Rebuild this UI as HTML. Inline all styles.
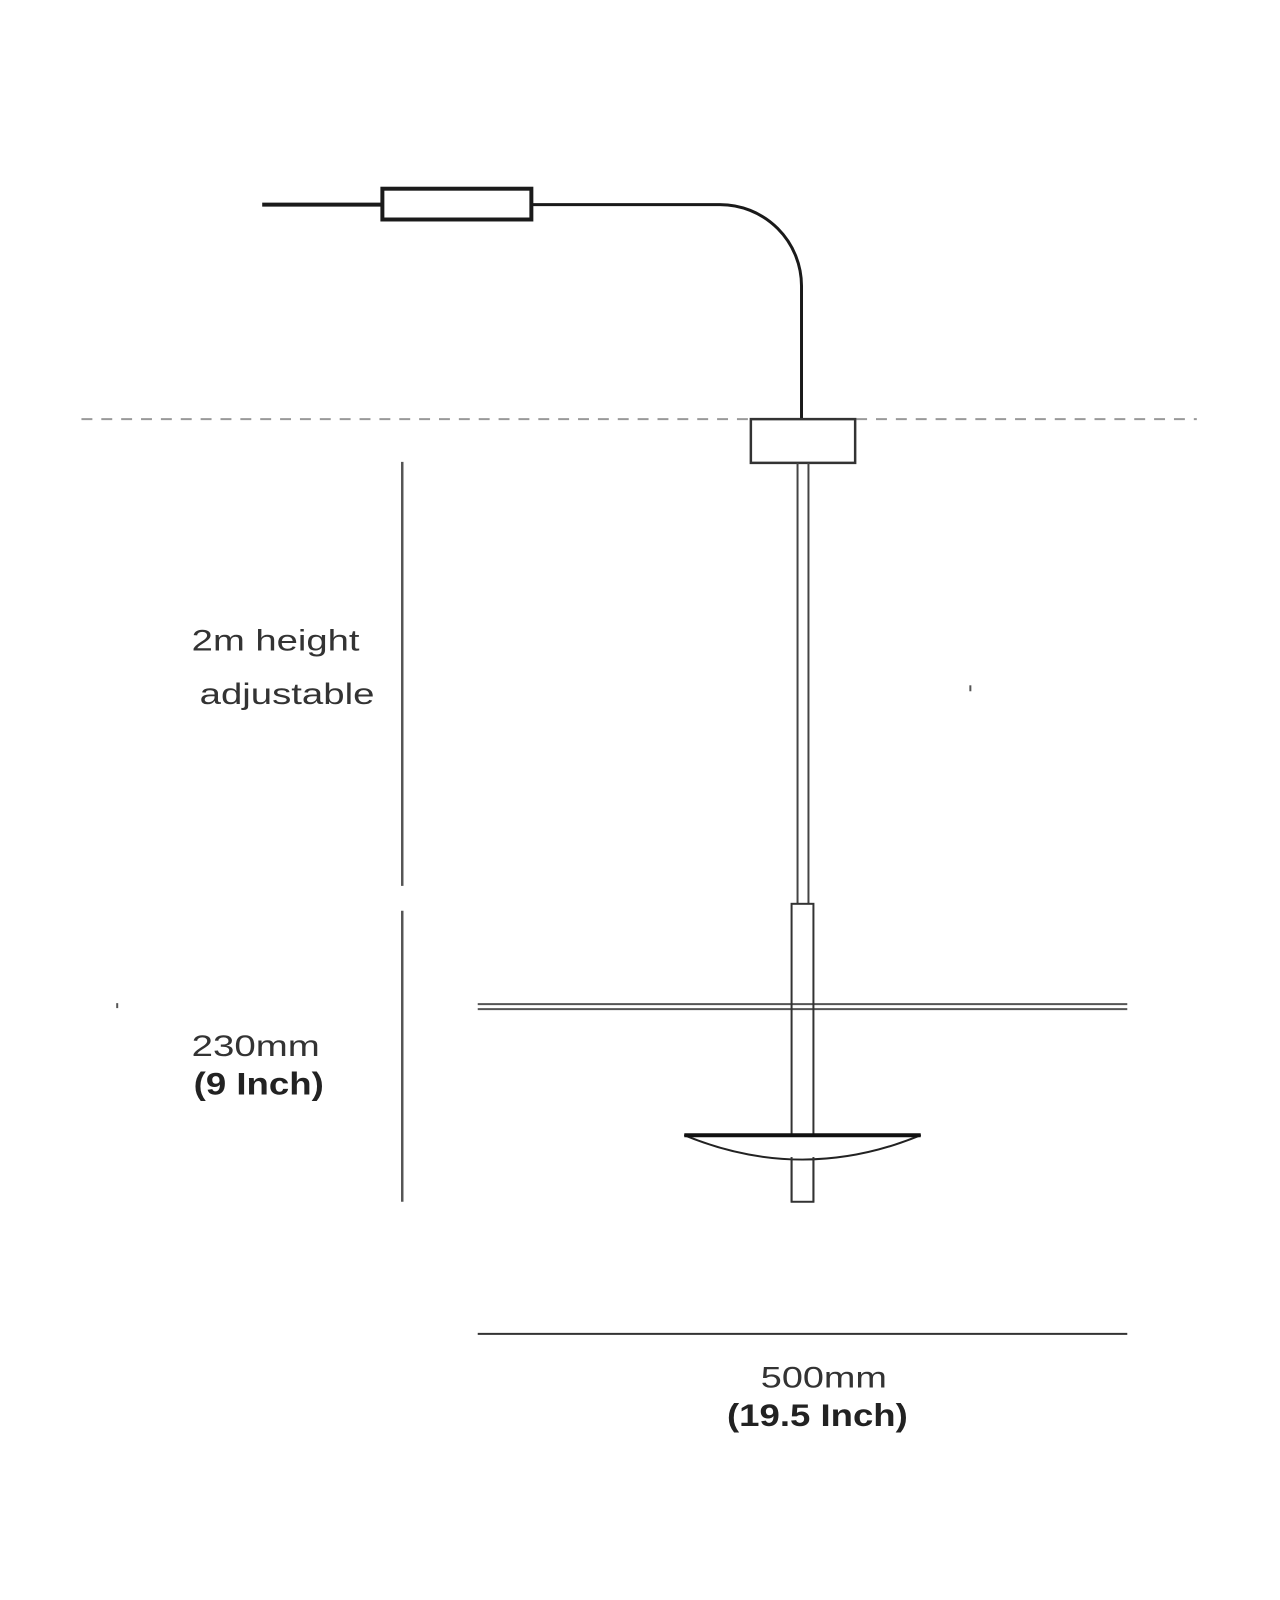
<!DOCTYPE html>
<html><head><meta charset="utf-8"><style>html,body{margin:0;padding:0;background:#fff}svg{display:block}</style></head>
<body>
<svg width="1280" height="1600" viewBox="0 0 1280 1600" xmlns="http://www.w3.org/2000/svg">
<rect width="1280" height="1600" fill="#fff"/>
<g transform="scale(0.9932)">
<line x1="264" y1="206" x2="384" y2="206" stroke="#1a1a1a" stroke-width="4"/>
<rect x="385" y="190" width="150" height="31" fill="#fff" stroke="#1a1a1a" stroke-width="4"/>
<path d="M535 206 H725 A82 82 0 0 1 807 288 V422" fill="none" stroke="#1a1a1a" stroke-width="3"/>
<line x1="82" y1="422" x2="1205" y2="422" stroke="#999" stroke-width="2" stroke-dasharray="11,9"/>
<path d="M756 422 H861 V466 H756 Z" fill="#fff" stroke="#333" stroke-width="2.5"/>
<line x1="803" y1="466" x2="803" y2="910" stroke="#444" stroke-width="2"/>
<line x1="814" y1="466" x2="814" y2="910" stroke="#444" stroke-width="2"/>
<line x1="481" y1="1011" x2="1135" y2="1011" stroke="#555" stroke-width="2"/>
<line x1="481" y1="1016" x2="1135" y2="1016" stroke="#555" stroke-width="2"/>
<rect x="797" y="910" width="22" height="300" fill="none" stroke="#333" stroke-width="2"/>
<path d="M689 1143 Q808 1192 927 1143 Z" fill="#fff" stroke="#222" stroke-width="2"/>
<line x1="689" y1="1143" x2="927" y2="1143" stroke="#111" stroke-width="4"/>
<line x1="797" y1="1165" x2="797" y2="1210" stroke="#333" stroke-width="2"/>
<line x1="819" y1="1165" x2="819" y2="1210" stroke="#333" stroke-width="2"/>
<line x1="405" y1="465" x2="405" y2="892" stroke="#555" stroke-width="2.5"/>
<line x1="405" y1="917" x2="405" y2="1210" stroke="#555" stroke-width="2.5"/>
<line x1="481" y1="1343" x2="1135" y2="1343" stroke="#333" stroke-width="2"/>
<rect x="976" y="690" width="2" height="6" fill="#555"/>
<rect x="117" y="1010" width="2" height="5" fill="#555"/>
<g font-family="Liberation Sans, sans-serif" fill="#333">
<text x="193" y="655" font-size="30" textLength="169" lengthAdjust="spacingAndGlyphs">2m height</text>
<text x="201" y="709" font-size="30" textLength="176" lengthAdjust="spacingAndGlyphs">adjustable</text>
<text x="193" y="1063" font-size="30" textLength="129" lengthAdjust="spacingAndGlyphs">230mm</text>
<text x="195" y="1102" font-size="32" font-weight="bold" fill="#222" textLength="131" lengthAdjust="spacingAndGlyphs">(9 Inch)</text>
<text x="766" y="1397" font-size="30" textLength="127" lengthAdjust="spacingAndGlyphs">500mm</text>
<text x="732" y="1436" font-size="32" font-weight="bold" fill="#222" textLength="182" lengthAdjust="spacingAndGlyphs">(19.5 Inch)</text>
</g>
</g>
</svg>
</body></html>
